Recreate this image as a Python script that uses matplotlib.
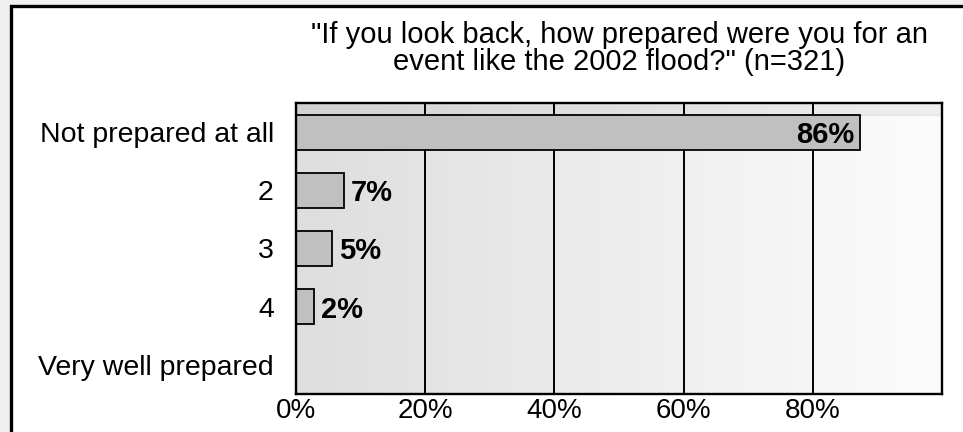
import matplotlib.pyplot as plt
import matplotlib.patches as patches
from matplotlib.colors import LinearSegmentedColormap
import numpy as np

plt.rcParams['font.family'] = ['Liberation Sans', 'DejaVu Sans']

# Data
categories = ['Not prepared at all', '2', '3', '4', 'Very well prepared']
bar_lengths = [87.3, 7.5, 5.6, 2.8, 0]
value_labels = ['86%', '7%', '5%', '2%', '']
x_ticks = [0, 20, 40, 60, 80]
x_tick_labels = ['0%', '20%', '40%', '60%', '80%']
title = '"If you look back, how prepared were you for an\nevent like the 2002 flood?" (n=321)'

fig = plt.figure(figsize=(9.63, 4.32), dpi=100, facecolor='#f0f0f0')

# white frame with thick black border (runs off right/bottom edges)
frame = patches.Rectangle((10.5 / 963, -0.2), 1.2, (432 - 6) / 432 + 0.2,
                          transform=fig.transFigure, facecolor='white',
                          edgecolor='black', linewidth=2.4, zorder=-10)
fig.patches.append(frame)

ax = fig.add_axes([296 / 963, (432 - 394) / 432, (942 - 296) / 963, (394 - 103) / 432])
ax.set_zorder(1)

# horizontal gradient background
bg = LinearSegmentedColormap.from_list('bg', ['#dedede', '#fcfcfc'])
grad = np.linspace(0, 1, 256).reshape(1, -1)
ax.imshow(grad, extent=[0, 100, 4.5, -0.5], aspect='auto', cmap=bg, zorder=0)

y = np.arange(len(categories))
ax.barh(y, bar_lengths, height=0.6, color='#c0c0c0', edgecolor='black',
        linewidth=1.3, zorder=3)

# slightly darker band above first bar
ax.axhspan(-0.5, -0.3, color='black', alpha=0.05, zorder=1)

for i, (v, lab) in enumerate(zip(bar_lengths, value_labels)):
    if not lab:
        continue
    if v > 50:
        ax.text(v - 0.9, i + 0.05, lab, ha='right', va='center',
                fontsize=21, fontweight='bold', zorder=4)
    else:
        ax.text(v + 1.0, i + 0.05, lab, ha='left', va='center',
                fontsize=21, fontweight='bold', zorder=4)

ax.set_xlim(0, 100)
ax.set_ylim(4.5, -0.5)
ax.set_xticks(x_ticks)
ax.set_xticklabels(x_tick_labels, fontsize=20)
ax.set_yticks(y)
ax.set_yticklabels(categories, fontsize=20.5)
ax.tick_params(length=0)
ax.tick_params(axis='y', pad=16)
ax.tick_params(axis='x', pad=3)

ax.grid(axis='x', color='black', linewidth=1.4, zorder=2)
ax.set_axisbelow(False)
for s in ax.spines.values():
    s.set_linewidth(1.7)
    s.set_zorder(5)

ax.set_title(title, fontsize=21, linespacing=0.92, pad=24)

fig.savefig('out.png', dpi=100, facecolor=fig.get_facecolor())
